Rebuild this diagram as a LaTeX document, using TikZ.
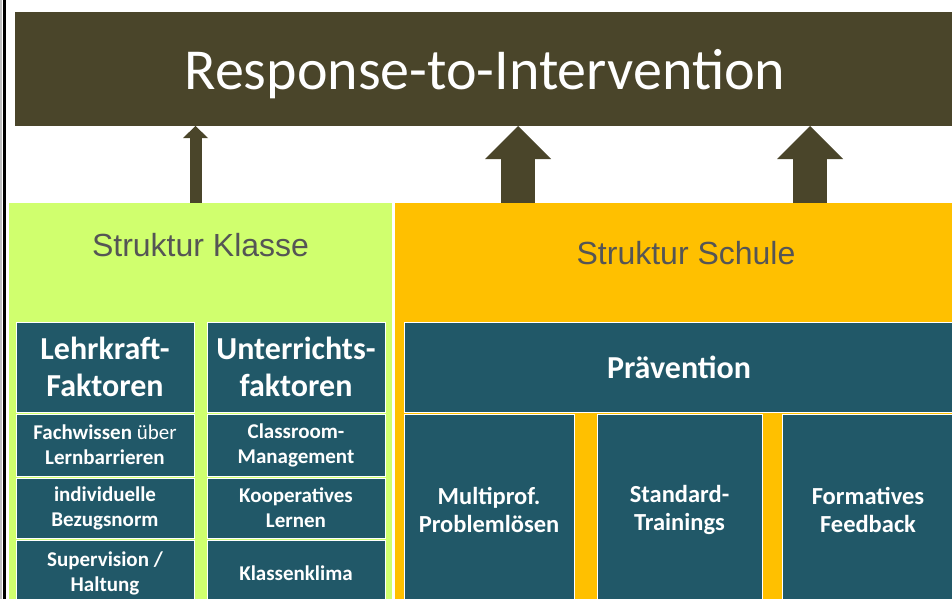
\documentclass[tikz,border=0pt]{standalone}
\usepackage{fontspec}
\setmainfont{Carlito}
\newfontfamily\arialfont{Liberation Sans}
\usetikzlibrary{arrows.meta, positioning}
\definecolor{rtiolive}{RGB}{74,69,42}
\definecolor{klassegreen}{RGB}{208,255,110}
\definecolor{schuleorange}{RGB}{255,192,0}
\definecolor{boxteal}{RGB}{33,88,104}
\definecolor{labelgray}{RGB}{85,85,85}
\tikzstyle{banner} = [rectangle, anchor=north west, minimum width=940pt, minimum height=114pt, inner sep=0pt, outer sep=0pt, text depth=0pt, fill=rtiolive, text=white, font=\fontsize{58}{60}\selectfont]
\tikzstyle{pillar} = [rectangle, anchor=north west, minimum height=420pt, inner sep=0pt, outer sep=0pt]
\tikzstyle{pillarlabel} = [text=labelgray, font=\arialfont\fontsize{32}{36}\selectfont]
\tikzstyle{headbox} = [rectangle, anchor=north west, minimum width=178pt, minimum height=90pt, inner sep=0pt, outer sep=0pt, draw=white, line width=1pt, fill=boxteal, text=white, align=center, font=\fontsize{32}{37}\selectfont\bfseries]
\tikzstyle{cellbox} = [rectangle, minimum width=178pt, inner sep=0pt, outer sep=0pt, draw=white, line width=1pt, fill=boxteal, text=white, align=center, font=\fontsize{21}{25}\selectfont\bfseries]
\tikzstyle{wideitem} = [rectangle, anchor=north west, minimum height=192pt, inner sep=0pt, outer sep=0pt, draw=white, line width=1pt, fill=boxteal, text=white, align=center, font=\fontsize{24.5}{28}\selectfont\bfseries]
\tikzstyle{thinarrow} = [draw=rtiolive, line width=12pt, -{Triangle[length=12pt, width=25pt, line width=0pt]}]
\tikzstyle{fatarrow} = [draw=rtiolive, line width=34pt, -{Triangle[length=33pt, width=66pt, line width=0pt]}]

\begin{document}
\begin{tikzpicture}[x=1pt, y=-1pt]
\clip (0,0) rectangle (952,599);
% left edge
\draw[gray!50, line width=1.5pt] (0.75,0) -- (0.75,599);
\draw[black, line width=3pt] (4.5,0) -- (4.5,599);

\node (rti) [banner] at (15,12) {Response-to-Intervention};
\node (klasse) [pillar, minimum width=383pt, fill=klassegreen] at (9,203) {};
\node (schule) [pillar, minimum width=582pt, fill=schuleorange] at (395,203) {};
\node (klab) [pillarlabel] at ([yshift=-42pt]klasse.north) {Struktur Klasse};
\node (sclab) [pillarlabel] at ([yshift=-50pt]schule.north) {Struktur Schule};

% arrows up to the banner
\coordinate (ka) at ([xshift=-5pt]klasse.north);
\coordinate (sa) at ([xshift=123pt]schule.north west);
\coordinate (sb) at ([xshift=415pt]schule.north west);
\draw [thinarrow] (ka) -- (ka |- rti.south);
\draw [fatarrow] (sa) -- (sa |- rti.south);
\draw [fatarrow] (sb) -- (sb |- rti.south);

% Struktur Klasse
\node (lehr) [headbox] at (16,322) {Lehrkraft-\\Faktoren};
\node (unter) [headbox, right=13pt of lehr] {Unterrichts-\\faktoren};
\node (fach) [cellbox, minimum height=62pt, below=2pt of lehr] {Fachwissen \mdseries über\\Lernbarrieren};
\node (indiv) [cellbox, minimum height=60pt, below=2pt of fach] {individuelle\\Bezugsnorm};
\node (superv) [cellbox, minimum height=66pt, below=2pt of indiv] {Supervision /\\Haltung};
\node (class) [cellbox, minimum height=62pt, below=2pt of unter] {Classroom-\\Management};
\node (koop) [cellbox, minimum height=60pt, below=2pt of class] {Kooperatives\\Lernen};
\node (klima) [cellbox, minimum height=66pt, below=2pt of koop] {Klassenklima};

% Struktur Schule
\node (prav) [headbox, minimum width=550pt] at (404,322) {Prävention};
\node (multi) [wideitem, minimum width=170pt] at (404,414) {Multiprof.\\Problemlösen};
\node (stand) [wideitem, minimum width=165pt, right=23pt of multi] {Standard-\\Trainings};
\node (form) [wideitem, minimum width=172pt, right=20pt of stand] {Formatives\\Feedback};
\end{tikzpicture}
\end{document}
